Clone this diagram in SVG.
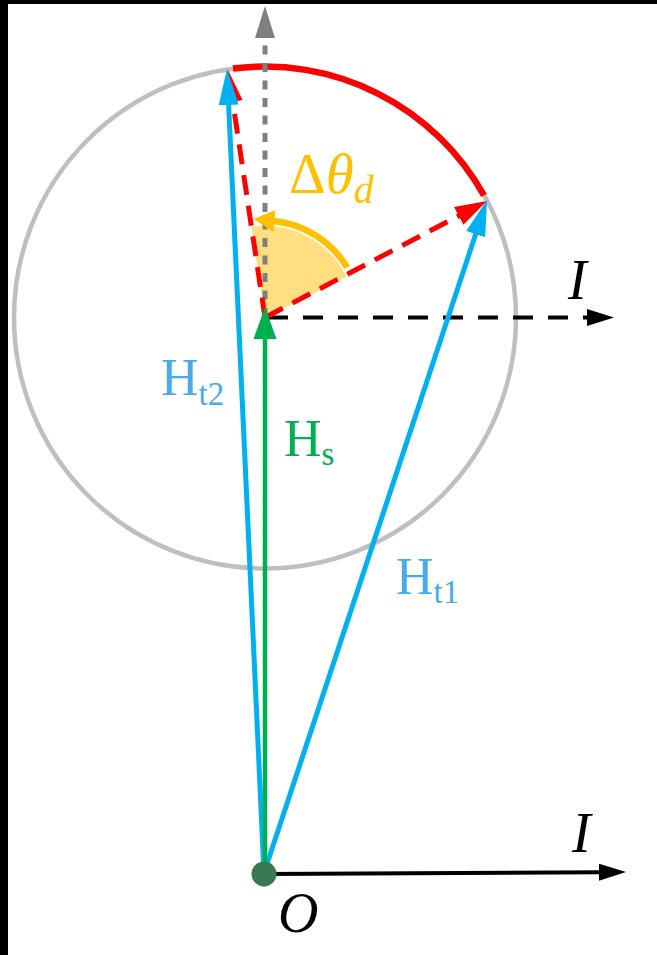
<svg xmlns="http://www.w3.org/2000/svg" width="657" height="955" viewBox="0 0 657 955">
  <style>
    .txt { font-family: "Liberation Serif", "Times New Roman", serif; }
    .lblH { font-size: 52px; }
    .sub { font-size: 33px; }
    .it { font-style: italic; }
    .blue { stroke: #00b0f0; stroke-width: 5; fill: none; }
    .green { stroke: #00b050; stroke-width: 4.5; fill: none; }
    .reddash { stroke: #ff0000; stroke-width: 5; fill: none; stroke-dasharray: 20 11; }
    .greydot { stroke: #808080; stroke-width: 5; fill: none; stroke-dasharray: 9 8.5; }
    .blackdash { stroke: #000000; stroke-width: 4; fill: none; stroke-dasharray: 20 15; }
  </style>
  <defs>
    <marker id="mBlue" markerUnits="userSpaceOnUse" viewBox="0 0 36 20" markerWidth="36" markerHeight="20" refX="16" refY="10" orient="auto">
      <path d="M0,0 L36,10 L0,20 Z" fill="#00b0f0"/>
    </marker>
    <marker id="mGreen" markerUnits="userSpaceOnUse" viewBox="0 0 32 23" markerWidth="32" markerHeight="23" refX="12" refY="11.5" orient="auto">
      <path d="M0,0 L32,11.5 L0,23 Z" fill="#00b050"/>
    </marker>
    <marker id="mRed" markerUnits="userSpaceOnUse" viewBox="0 0 32 20" markerWidth="32" markerHeight="20" refX="12" refY="10" orient="auto">
      <path d="M0,0 L32,10 L0,20 Z" fill="#ff0000"/>
    </marker>
    <marker id="mGrey" markerUnits="userSpaceOnUse" viewBox="0 0 32 20" markerWidth="32" markerHeight="20" refX="1" refY="10" orient="auto">
      <path d="M0,0 L32,10 L0,20 Z" fill="#808080"/>
    </marker>
    <marker id="mBlack" markerUnits="userSpaceOnUse" viewBox="0 0 27 17" markerWidth="27" markerHeight="17" refX="1" refY="8.5" orient="auto">
      <path d="M0,0 L27,8.5 L0,17 Z" fill="#000000"/>
    </marker>
    <marker id="mOrange" markerUnits="userSpaceOnUse" viewBox="0 0 21 22" markerWidth="21" markerHeight="22" refX="1" refY="11" orient="auto">
      <path d="M0,0 L21,11 L0,22 Z" fill="#ffc000"/>
    </marker>
  </defs>

  <rect x="0" y="0" width="657" height="955" fill="#ffffff"/>
  <rect x="0" y="0" width="657" height="4" fill="#000000"/>
  <rect x="0" y="0" width="8" height="955" fill="#000000"/>

  <g id="circle">
    <circle cx="265" cy="317.5" r="251" fill="none" stroke="#bfbfbf" stroke-width="4.5"/>
  </g>

  <g id="angle-sector">
    <path d="M265,317.5 L346.5,276.7 A92,92 0 0 0 251.4,226.5 Z" fill="#ffc000" fill-opacity="0.5"/>
  </g>

  <g id="connectors">
    <path d="M233,68.5 A251,251 0 0 1 484,195.5" fill="none" stroke="#ff0000" stroke-width="6.5"/>
    <line class="greydot" x1="265" y1="317" x2="265" y2="37" marker-end="url(#mGrey)"/>
    <line class="blackdash" x1="268" y1="317.5" x2="588" y2="317.5" marker-end="url(#mBlack)"/>
    <line x1="264" y1="874" x2="600" y2="872.2" stroke="#000000" stroke-width="4" marker-end="url(#mBlack)"/>
    <line class="reddash" x1="265" y1="317.5" x2="231" y2="89.8" marker-end="url(#mRed)"/>
    <line class="reddash" x1="265" y1="317.5" x2="469.3" y2="210.3" marker-end="url(#mRed)"/>
    <line class="blue" x1="264" y1="873" x2="227.9" y2="89" marker-end="url(#mBlue)"/>
    <line class="blue" x1="264" y1="873" x2="480.7" y2="219" marker-end="url(#mBlue)"/>
    <line class="green" x1="265" y1="873" x2="265" y2="327" marker-end="url(#mGreen)"/>
    <path d="M347.2,267.5 A97,97 0 0 0 273.5,220.9" fill="none" stroke="#ffc000" stroke-width="6.5" marker-end="url(#mOrange)"/>
  </g>

  <g id="origin">
    <circle cx="264" cy="874" r="12.5" fill="#3b7953"/>
    <text class="txt it" x="278" y="932" font-size="56" fill="#000000">O</text>
  </g>

  <g id="label-I-top">
    <text class="txt it" x="568" y="299" font-size="56" fill="#000000">I</text>
  </g>
  <g id="label-I-bottom">
    <text class="txt it" x="572" y="852" font-size="56" fill="#000000">I</text>
  </g>

  <g id="label-dtheta">
    <text class="txt" x="289" y="193" font-size="57" fill="#ffc000">Δ<tspan class="it">θ</tspan><tspan class="it" font-size="40" dy="10">d</tspan></text>
  </g>

  <g id="label-Ht2">
    <text class="txt lblH" x="161" y="395" fill="#4aabea">H<tspan class="sub" dy="10">t2</tspan></text>
  </g>
  <g id="label-Hs">
    <text class="txt lblH" x="284" y="456" fill="#00b050">H<tspan class="sub" dy="9">s</tspan></text>
  </g>
  <g id="label-Ht1">
    <text class="txt lblH" x="396" y="594" fill="#4aabea">H<tspan class="sub" dy="9">t1</tspan></text>
  </g>
</svg>
